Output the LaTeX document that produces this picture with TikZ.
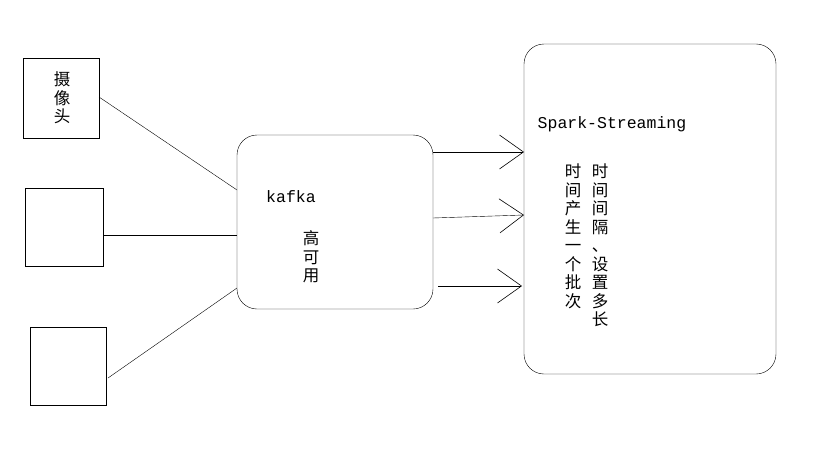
\documentclass[tikz,border=0pt]{standalone}
\usepackage{fontspec}
\newfontfamily\cjk{Noto Sans CJK SC}
\setmonofont{Liberation Mono}
\usetikzlibrary{arrows.meta}
\tikzset{
	camera/.style={draw, thin},
	hub/.style={draw, thin, rounded corners=20pt},
	vtext/.style={font=\cjk\fontsize{16.5}{18.5}\selectfont, align=center, inner sep=0pt},
	ltext/.style={font=\ttfamily\fontsize{16.5}{18}\selectfont, inner sep=0pt},
	feed/.style={-{Straight Barb[length=24pt,width=34pt,line width=0.6pt]}, thin}
}
\begin{document}
\begin{tikzpicture}[x=1pt,y=-1pt]
	\useasboundingbox[fill=white] (0,0) rectangle (819,460);

	% sources
	\draw[camera] (23,58) rectangle (99,138);
	\node[vtext] (cam) at (62,98) {摄\\像\\头};
	\draw[camera] (25,188) rectangle (103,266);
	\draw[camera] (30,327) rectangle (106,405);
	\coordinate (c1) at (99,97);
	\coordinate (c2) at (103,235);
	\coordinate (c3) at (108,378);

	% kafka
	\draw[hub] (237,135) rectangle (433,309);
	\node[ltext] (kafka) at (291,197) {kafka};
	\node[vtext] (ha) at (311,257) {高\\可\\用};
	\coordinate (k1) at (237,190);
	\coordinate (k2) at (237,235);
	\coordinate (k3) at (237,288);

	% spark
	\draw[hub] (524,44) rectangle (776,374);
	\node[ltext] (spark) at (612,124) {Spark-Streaming};
	\node[vtext, anchor=north] (t1) at (600,164) {时\\间\\间\\隔\\、\\设\\置\\多\\长};
	\node[vtext, anchor=north] (t2) at (573,164) {时\\间\\产\\生\\一\\个\\批\\次};

	\draw (c1) -- (k1);
	\draw (c2) -- (k2);
	\draw (c3) -- (k3);

	\draw[feed] (433,152) -- (524,152);
	\draw[feed] (433,218) -- (524,215);
	\draw[feed] (438,286) -- (522,286);
\end{tikzpicture}
\end{document}
